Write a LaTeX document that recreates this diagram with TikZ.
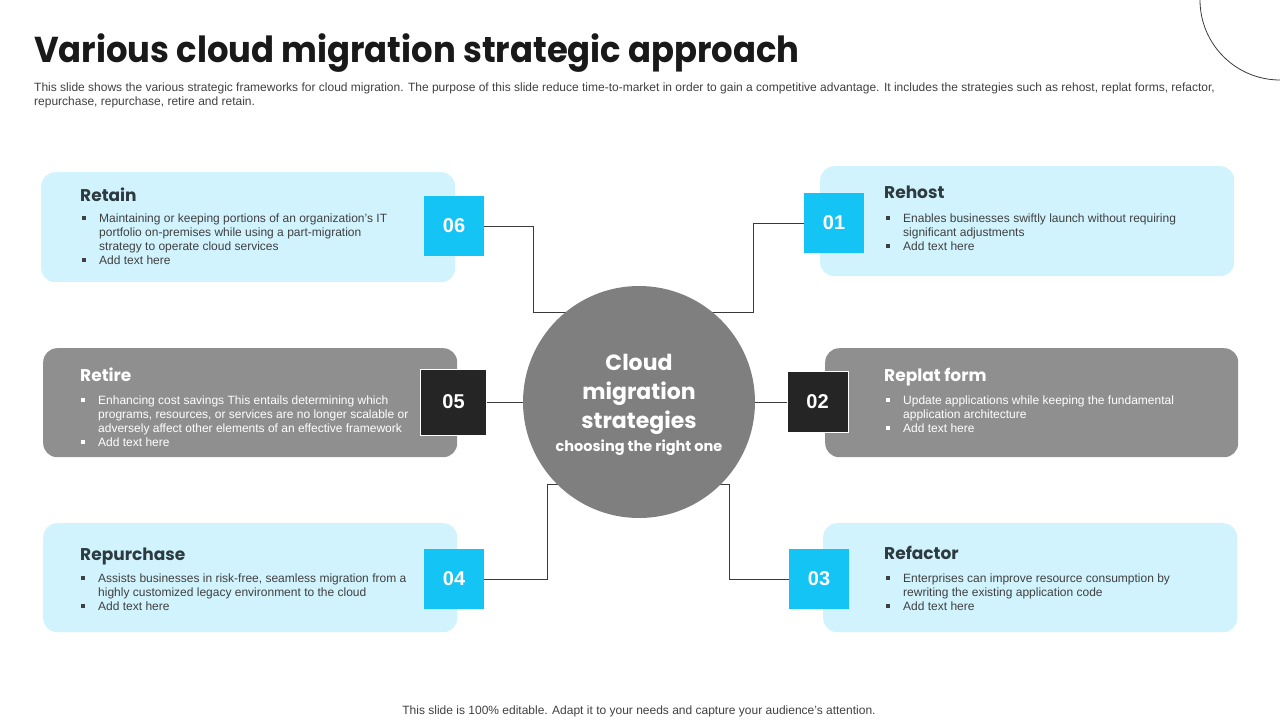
\documentclass[tikz,border=0pt]{standalone}
\usepackage{fontspec}
\setmainfont{Liberation Sans}
\newfontfamily\headfont{Poppins}[FakeStretch=0.94]
\newfontfamily\boxfont{Poppins}
\usetikzlibrary{backgrounds}
\definecolor{lightbox}{HTML}{D1F3FD}
\definecolor{cyanbox}{HTML}{14C4F4}
\definecolor{greybox}{HTML}{8F8F8F}
\definecolor{circfill}{HTML}{7F7F7F}
\definecolor{darksq}{HTML}{252525}
\definecolor{ttl}{HTML}{2D3B40}
\definecolor{bodytxt}{HTML}{404040}
\definecolor{linecol}{HTML}{3A3A3A}
\newcommand\bul{\rule[2pt]{4pt}{4pt}}
\tikzset{
  lbox/.style={fill=lightbox, rounded corners=14pt, inner sep=0, anchor=north west},
  gbox/.style={fill=greybox, rounded corners=14pt, inner sep=0, anchor=north west},
  csq/.style={fill=cyanbox, minimum size=60pt, inner sep=0, text=white, font=\fontsize{20}{24}\selectfont\bfseries},
  dsq/.style={fill=darksq, draw=white, line width=1pt, inner sep=0, text=white, font=\fontsize{20}{24}\selectfont\bfseries},
  conn/.style={draw=linecol, line width=0.9pt},
  btitle/.style={anchor=base west, inner sep=0, font=\boxfont\bfseries\fontsize{17}{20}\selectfont},
  items/.style={anchor=north west, inner sep=0, font=\fontsize{12}{14}\selectfont},
}
\begin{document}
\begin{tikzpicture}[x=1pt,y=-1pt]
\useasboundingbox (0,0) rectangle (1280,720);
% title
\node[anchor=base west, inner sep=0, text=black!90, font=\headfont\bfseries\fontsize{36}{40}\selectfont] (title) at (34,62) {Various cloud migration strategic approach};
\node[anchor=base west, inner sep=0, text=bodytxt, font=\fontsize{12}{14}\selectfont] (sub1) at (34,91) {This slide shows the various strategic frameworks for cloud migration. The purpose of this slide reduce time-to-market in order to gain a competitive advantage. It includes the strategies such as rehost, replat forms, refactor,};
\node[anchor=base west, inner sep=0, text=bodytxt, font=\fontsize{12}{14}\selectfont] (sub2) at (34,105) {repurchase, repurchase, retire and retain.};
\draw[linecol, line width=0.8pt] (1200,0) arc (180:90:80);

% boxes
\node[lbox, minimum width=414pt, minimum height=110pt] (b6) at (41,172) {};
\node[lbox, minimum width=414pt, minimum height=110pt] (b1) at (820,166) {};
\node[gbox, minimum width=414pt, minimum height=109pt] (b5) at (43,348) {};
\node[gbox, minimum width=413pt, minimum height=109pt] (b2) at (825,348) {};
\node[lbox, minimum width=414pt, minimum height=109pt] (b4) at (43,523) {};
\node[lbox, minimum width=414pt, minimum height=109pt] (b3) at (823,523) {};

% squares
\node[csq] (n6) at (454,226) {06};
\node[csq] (n1) at (834,223) {01};
\node[dsq, minimum size=66pt] (n5) at (453.5,402) {05};
\node[dsq, minimum size=61pt] (n2) at (817.5,402) {02};
\node[csq] (n4) at (454,579) {04};
\node[csq] (n3) at (819,579) {03};

% centre circle
\node[circle, fill=circfill, minimum size=232pt, inner sep=0] (c) at (639,402) {};
\node[anchor=base, inner sep=0, text=white, font=\boxfont\bfseries\fontsize{22}{26}\selectfont] (ct1) at (639,370) {Cloud};
\node[anchor=base, inner sep=0, text=white, font=\boxfont\bfseries\fontsize{22}{26}\selectfont] (ct2) at (639,399) {migration};
\node[anchor=base, inner sep=0, text=white, font=\boxfont\bfseries\fontsize{22}{26}\selectfont] (ct3) at (639,428) {strategies};
\node[anchor=base, inner sep=0, text=white, font=\boxfont\bfseries\fontsize{14.5}{17}\selectfont] (ct4) at (639,451) {choosing the right one};

% connectors
\coordinate (j6) at (533,312);
\coordinate (j1) at (753,312);
\coordinate (j4) at (547,484);
\coordinate (j3) at (729,484);
\begin{scope}[on background layer]
\draw[conn] (n6.east) -| (j6) -- (j6 -| c.center);
\draw[conn] (n1.west) -| (j1) -- (j1 -| c.center);
\draw[conn] (n4.east) -| (j4) -- (j4 -| c.center);
\draw[conn] (n3.west) -| (j3) -- (j3 -| c.center);
\end{scope}
\draw[conn] (n5.east) -- (c.west);
\draw[conn] (n2.west) -- (c.east);

% box titles
\node[btitle, text=ttl] (t6) at (80,201) {Retain};
\node[btitle, text=ttl] (t1) at (884,198) {Rehost};
\node[btitle, text=white] (t5) at (80,381) {Retire};
\node[btitle, text=white] (t2) at (884,381) {Replat form};
\node[btitle, text=ttl] (t4) at (80,560) {Repurchase};
\node[btitle, text=ttl] (t3) at (884,559) {Refactor};

% bullet texts
\node[items, text=bodytxt] (i6) at (82,212) {\begin{tabular}{@{}p{17pt}@{}l@{}}
\bul & Maintaining or keeping portions of an organization’s IT\\
 & portfolio on-premises while using a part-migration\\
 & strategy to operate cloud services\\
\bul & Add text here\end{tabular}};
\node[items, text=bodytxt] (i1) at (886,212) {\begin{tabular}{@{}p{17pt}@{}l@{}}
\bul & Enables businesses swiftly launch without requiring\\
 & significant adjustments\\
\bul & Add text here\end{tabular}};
\node[items, text=white] (i5) at (81,394) {\begin{tabular}{@{}p{17pt}@{}l@{}}
\bul & Enhancing cost savings This entails determining which\\
 & programs, resources, or services are no longer scalable or\\
 & adversely affect other elements of an effective framework\\
\bul & Add text here\end{tabular}};
\node[items, text=white] (i2) at (886,394) {\begin{tabular}{@{}p{17pt}@{}l@{}}
\bul & Update applications while keeping the fundamental\\
 & application architecture\\
\bul & Add text here\end{tabular}};
\node[items, text=bodytxt] (i4) at (81,572) {\begin{tabular}{@{}p{17pt}@{}l@{}}
\bul & Assists businesses in risk-free, seamless migration from a\\
 & highly customized legacy environment to the cloud\\
\bul & Add text here\end{tabular}};
\node[items, text=bodytxt] (i3) at (886,572) {\begin{tabular}{@{}p{17pt}@{}l@{}}
\bul & Enterprises can improve resource consumption by\\
 & rewriting the existing application code\\
\bul & Add text here\end{tabular}};

% footer
\node[anchor=base, inner sep=0, text=bodytxt, font=\fontsize{12}{14}\selectfont] (foot) at (639,714) {This slide is 100\% editable. Adapt it to your needs and capture your audience’s attention.};
\end{tikzpicture}
\end{document}
